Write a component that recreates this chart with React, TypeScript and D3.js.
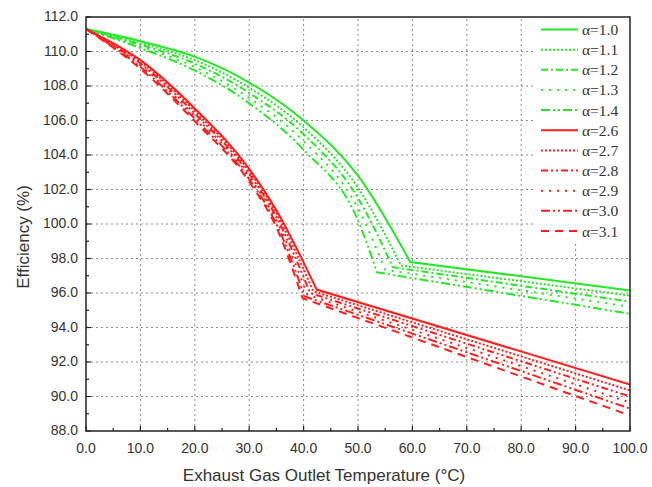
import React from 'react';
import * as d3 from 'd3';

// temperatures (°C) where the curved part of each series was read
const greenTemps = [0, 10, 20, 30, 40, 50];
const redTemps = [0, 10, 20, 30, 35];
const endTemp = 100;

// green bundle: alpha 1.0 .. 1.4
const greenAlphas = ['1.0', '1.1', '1.2', '1.3', '1.4'];
const greenEff = [
  [111.3, 110.6, 109.7, 108.2, 106.0, 102.8],
  [111.3, 110.5, 109.5, 107.9, 105.6, 102.1],
  [111.3, 110.4, 109.3, 107.6, 105.2, 101.5],
  [111.3, 110.3, 109.1, 107.3, 104.8, 100.9],
  [111.3, 110.2, 108.9, 107.0, 104.3, 100.2],
];
const greenKinkTemp = [59.6, 57.9, 56.4, 55.0, 53.5];
const greenKinkEff = [97.8, 97.6, 97.5, 97.35, 97.2];
const greenEndEff = [96.15, 95.85, 95.5, 95.2, 94.8];

// red bundle: alpha 2.6 .. 3.1
const redAlphas = ['2.6', '2.7', '2.8', '2.9', '3.0', '3.1'];
const redEff = [
  [111.3, 109.5, 106.7, 103.2, 100.8],
  [111.3, 109.4, 106.55, 103.05, 100.6],
  [111.3, 109.3, 106.4, 102.9, 100.4],
  [111.3, 109.2, 106.25, 102.75, 100.2],
  [111.3, 109.1, 106.1, 102.6, 100.0],
  [111.3, 109.0, 105.95, 102.45, 99.8],
];
const redKinkTemp = [42.4, 41.8, 41.2, 40.7, 40.2, 39.8];
const redKinkEff = [96.2, 96.1, 96.0, 95.9, 95.8, 95.7];
const redEndEff = [90.7, 90.35, 90.0, 89.65, 89.3, 88.9];

const xTicks = [0, 10, 20, 30, 40, 50, 60, 70, 80, 90, 100];
const yTicks = [88, 90, 92, 94, 96, 98, 100, 102, 104, 106, 108, 110, 112];

const GREEN = '#25e825';
const RED = '#ff1e1e';
const greenDash = ['none', '2,2', '7,3,2,3', '2,6', '9,3,2,3,2,3'];
const redDash = ['none', '2,2', '7,3,2,3,2,3', '2,6', '9,3,2,3,2,3', '8,6'];

const W = 652;
const H = 487;
const margin = { left: 86, right: 22, top: 17, bottom: 56 };

export default function App() {
  const x = d3.scaleLinear().domain([0, 100]).range([margin.left, W - margin.right]);
  const y = d3.scaleLinear().domain([88, 112]).range([H - margin.bottom, margin.top]);
  const [x0, x1] = x.range();
  const [yB, yT] = y.range();

  const curve = d3
    .line<[number, number]>()
    .x((d) => x(d[0]))
    .y((d) => y(d[1]))
    .curve(d3.curveMonotoneX);

  // curved part up to the kink, then a straight run to 100 °C
  const makePath = (temps: number[], eff: number[], kt: number, ke: number, ee: number) => {
    const pts: [number, number][] = temps.map((t, i) => [t, eff[i]]);
    pts.push([kt, ke]);
    return `${curve(pts)}L${x(endTemp)},${y(ee)}`;
  };

  const series = [
    ...greenAlphas.map((a, i) => ({
      label: a,
      color: GREEN,
      dash: greenDash[i],
      d: makePath(greenTemps, greenEff[i], greenKinkTemp[i], greenKinkEff[i], greenEndEff[i]),
    })),
    ...redAlphas.map((a, i) => ({
      label: a,
      color: RED,
      dash: redDash[i],
      d: makePath(redTemps, redEff[i], redKinkTemp[i], redKinkEff[i], redEndEff[i]),
    })),
  ];

  const minorX = d3.range(5, 100, 10);
  const minorY = d3.range(89, 112, 2);
  const sans = '"Liberation Sans", Arial, sans-serif';

  return (
    <svg width={W} height={H} style={{ position: 'absolute', left: 0, top: 0 }}>
      <rect width={W} height={H} fill="#fff" />
      <defs>
        <clipPath id="plot">
          <rect x={x0} y={yT} width={x1 - x0} height={yB - yT} />
        </clipPath>
      </defs>

      {/* grid */}
      <g stroke="#8a8a8a" strokeWidth={1} strokeDasharray="2,3">
        {xTicks.slice(1, -1).map((t) => (
          <line key={'gx' + t} x1={x(t)} x2={x(t)} y1={yB} y2={yT} />
        ))}
        {yTicks.slice(1, -1).map((v) => (
          <line key={'gy' + v} x1={x0} x2={x1} y1={y(v)} y2={y(v)} />
        ))}
      </g>

      {/* legend background hides the grid */}
      <rect x={535} y={yT + 1} width={x1 - 536} height={226} fill="#fff" />

      <g clipPath="url(#plot)" fill="none" strokeWidth={2}>
        {series.map((s) => (
          <path key={s.label} d={s.d} stroke={s.color} strokeDasharray={s.dash} />
        ))}
      </g>

      {/* legend */}
      <g>
        {series.map((s, i) => {
          const ly = 29.5 + i * 20.15;
          return (
            <g key={'lg' + s.label}>
              <line x1={541} x2={578} y1={ly} y2={ly} stroke={s.color} strokeWidth={2} strokeDasharray={s.dash} />
              <text
                x={582}
                y={ly}
                dominantBaseline="central"
                fontFamily='"Liberation Serif", "Times New Roman", serif'
                fontSize={15.5}
                fill="#333"
              >
                {`α=${s.label}`}
              </text>
            </g>
          );
        })}
      </g>

      {/* frame and ticks */}
      <rect x={x0} y={yT} width={x1 - x0} height={yB - yT} fill="none" stroke="#222" strokeWidth={1.5} />
      <g stroke="#222" strokeWidth={1.2}>
        {xTicks.map((t) => (
          <line key={'tx' + t} x1={x(t)} x2={x(t)} y1={yB} y2={yB - 5} />
        ))}
        {minorX.map((t) => (
          <line key={'mx' + t} x1={x(t)} x2={x(t)} y1={yB} y2={yB - 3} />
        ))}
        {yTicks.map((v) => (
          <line key={'ty' + v} x1={x0} x2={x0 + 5} y1={y(v)} y2={y(v)} />
        ))}
        {minorY.map((v) => (
          <line key={'my' + v} x1={x0} x2={x0 + 3} y1={y(v)} y2={y(v)} />
        ))}
      </g>

      {/* tick labels */}
      <g fontFamily={sans} fontSize={14} fill="#333">
        {xTicks.map((t) => (
          <text key={'lx' + t} x={x(t)} y={yB + 17} textAnchor="middle" dominantBaseline="central">
            {t.toFixed(1)}
          </text>
        ))}
        {yTicks.map((v) => (
          <text key={'ly' + v} x={x0 - 8} y={y(v) - 1} textAnchor="end" dominantBaseline="central">
            {v.toFixed(1)}
          </text>
        ))}
      </g>

      {/* axis titles */}
      <text x={324} y={475} textAnchor="middle" dominantBaseline="central" fontFamily={sans} fontSize={17} fill="#333">
        Exhaust Gas Outlet Temperature (°C)
      </text>
      <text
        transform={`translate(23,237) rotate(-90)`}
        textAnchor="middle"
        dominantBaseline="central"
        fontFamily={sans}
        fontSize={17}
        fill="#333"
      >
        Efficiency (%)
      </text>
    </svg>
  );
}
